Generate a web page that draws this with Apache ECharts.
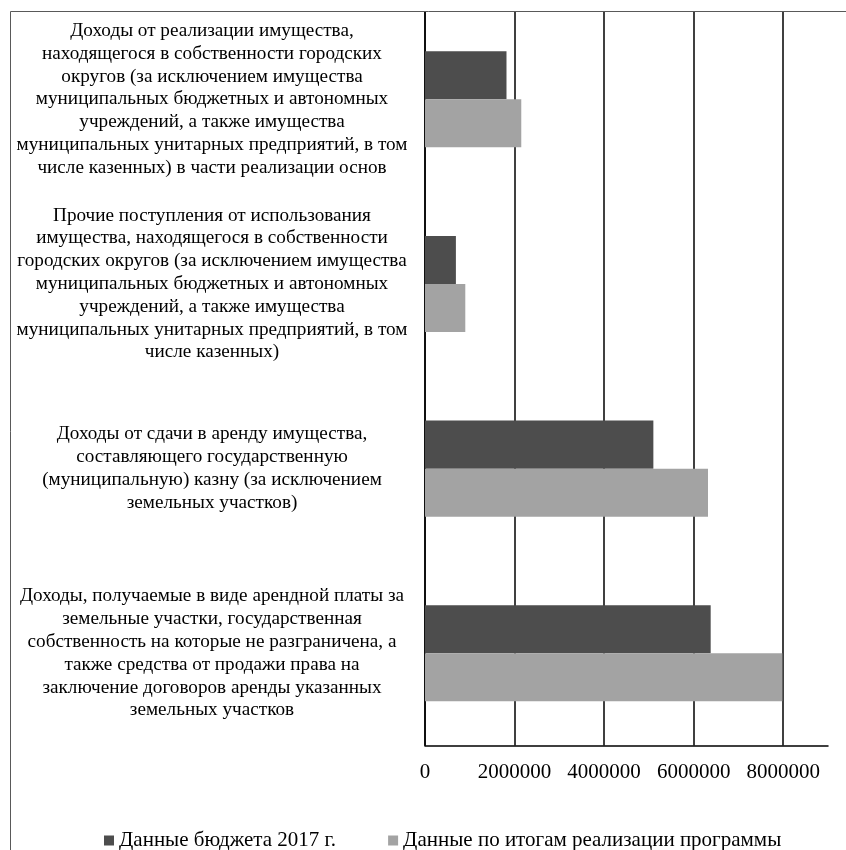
<!DOCTYPE html>
<html>
<head>
<meta charset="utf-8">
<script src="https://cdn.jsdelivr.net/npm/echarts@6/dist/echarts.min.js"></script>
<style>
  html, body { margin: 0; padding: 0; background: #fff; }
  #chart { width: 846px; height: 850px; }
</style>
</head>
<body>
<div id="chart"></div>
<script>
// categories, top to bottom (line breaks as in the original labels)
const categories = [
    'Доходы от реализации имущества,\nнаходящегося в собственности городских\nокругов (за исключением имущества\nмуниципальных бюджетных и автономных\nучреждений, а также имущества\nмуниципальных унитарных предприятий, в том\nчисле казенных) в части реализации основ',
    'Прочие поступления от использования\nимущества, находящегося в собственности\nгородских округов (за исключением имущества\nмуниципальных бюджетных и автономных\nучреждений, а также имущества\nмуниципальных унитарных предприятий, в том\nчисле казенных)',
    'Доходы от сдачи в аренду имущества,\nсоставляющего государственную\n(муниципальную) казну (за исключением\nземельных участков)',
    'Доходы, получаемые в виде арендной платы за\nземельные участки, государственная\nсобственность на которые не разграничена, а\nтакже средства от продажи права на\nзаключение договоров аренды указанных\nземельных участков',
];
const budget2017 = [1820000, 690000, 5100000, 6380000];
const programResult = [2150000, 900000, 6320000, 7980000];
const seriesNames = ['Данные бюджета 2017 г.', 'Данные по итогам реализации программы'];

const serif = '"Liberation Serif", "Times New Roman", serif';

const chart = echarts.init(document.getElementById('chart'), null, {renderer: 'canvas'});

chart.setOption({
    animation: false,
    backgroundColor: '#fff',
    textStyle: {fontFamily: serif},
    grid: {left: 425, right: 18, top: 7, bottom: 104.4, containLabel: false},
    legend: {
        left: 99,
        top: 825,
        icon: 'rect',
        itemWidth: 10,
        itemHeight: 10,
        itemGap: 52,
        textStyle: {fontFamily: serif, fontSize: 21, color: '#000'},
        data: seriesNames,
    },
    xAxis: {
        type: 'value',
        min: 0,
        max: 9000000,
        interval: 2000000,
        axisLine: {show: true, lineStyle: {color: '#000', width: 1.5}},
        axisTick: {show: false},
        splitLine: {show: true, showMaxLine: false, lineStyle: {color: '#000', width: 1.5}},
        axisLabel: {
            color: '#000',
            fontFamily: serif,
            fontSize: 21,
            margin: 16,
            showMaxLabel: false,
            formatter: v => (v > 8000000 ? '' : String(v)),
        },
    },
    yAxis: {
        type: 'category',
        inverse: true,
        data: categories,
        axisLine: {show: true, lineStyle: {color: '#000', width: 1.5}},
        axisTick: {show: false},
        axisLabel: {
            color: '#000',
            fontFamily: serif,
            fontSize: 19.2,
            lineHeight: 22.8,
            align: 'center',
            margin: 213,
            padding: [4, 0, 0, 0],
        },
    },
    series: [
        {
            name: seriesNames[0],
            type: 'bar',
            data: budget2017,
            barGap: '0%',
            barCategoryGap: '48%',
            itemStyle: {color: '#4d4d4d'},
        },
        {
            name: seriesNames[1],
            type: 'bar',
            data: programResult,
            itemStyle: {color: '#a3a3a3'},
        },
    ],
    graphic: [
        // cropped top of the original picture
        {type: 'rect', z: 100, shape: {x: 0, y: 0, width: 846, height: 11}, style: {fill: '#fff'}},
        // outer frame, cut by the picture edges on the right and bottom
        {type: 'rect', z: 101, shape: {x: 10.5, y: 11.5, width: 900, height: 900},
            style: {fill: 'none', stroke: '#595959', lineWidth: 1}},
    ],
});
</script>
</body>
</html>
